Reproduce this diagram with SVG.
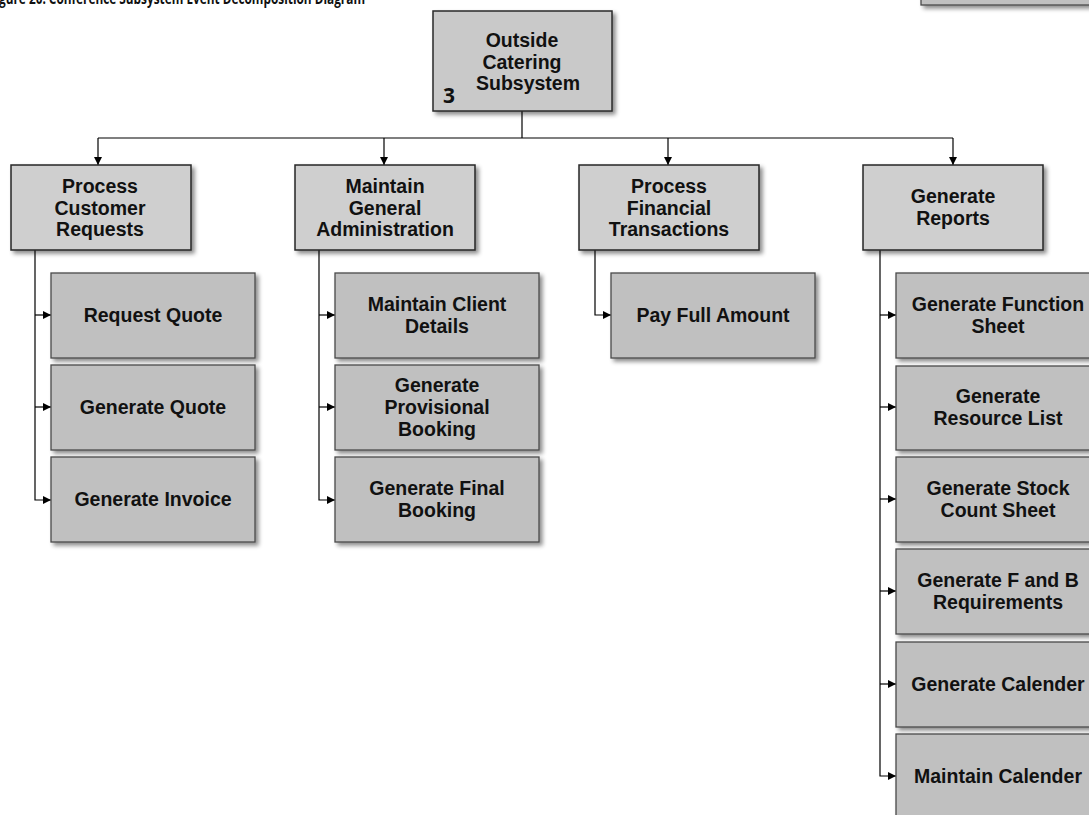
<svg xmlns="http://www.w3.org/2000/svg" width="1089" height="815" viewBox="0 0 1089 815">
  <defs>
    <filter id="shadow" x="-10%" y="-10%" width="130%" height="130%">
      <feDropShadow dx="3" dy="3" stdDeviation="2" flood-color="#000" flood-opacity="0.45"/>
    </filter>
    <marker id="arrow" viewBox="0 0 10 10" refX="10" refY="5" markerWidth="10" markerHeight="8" markerUnits="userSpaceOnUse" orient="auto">
      <path d="M0,0 L10,5 L0,10 z" fill="#000"/>
    </marker>
  </defs>
  <style>
    .bg { fill: #ffffff; }
    .top { fill: #c9c9c9; stroke: #2a2a2a; stroke-width: 1.5; filter: url(#shadow); }
    .mid { fill: #cfcfcf; stroke: #262626; stroke-width: 1.5; filter: url(#shadow); }
    .leaf { fill: #c0c0c0; stroke: #4a4a4a; stroke-width: 1.3; filter: url(#shadow); }
    .lbl { font-family: "Liberation Sans", Arial, sans-serif; font-weight: bold; font-size: 19.5px; fill: #111; text-anchor: middle; }
    .num { font-family: "Open Sans", "Liberation Sans", sans-serif; font-weight: bold; font-size: 21px; fill: #111; }
    .title { font-family: "Open Sans", "Liberation Sans", sans-serif; font-weight: bold; font-size: 16px; fill: #111; }
    .wire { fill: none; stroke: #000; stroke-width: 1.2; }
  </style>

  <rect class="bg" x="0" y="0" width="1089" height="815"/>

  <!-- figure caption, running off the top edge -->
  <text class="title" x="-1" y="4" textLength="366" lengthAdjust="spacingAndGlyphs">gure 20: Conference Subsystem Event Decomposition Diagram</text>

  <!-- box partly off the top-right edge -->
  <rect class="leaf" x="921" y="-40" width="200" height="45"/>

  <!-- connectors -->
  <g id="connectors">
    <path class="wire" d="M522,111 V138"/>
    <path class="wire" d="M98,138 H953"/>
    <path class="wire" d="M98,138 V165" marker-end="url(#arrow)"/>
    <path class="wire" d="M384,138 V165" marker-end="url(#arrow)"/>
    <path class="wire" d="M668,138 V165" marker-end="url(#arrow)"/>
    <path class="wire" d="M953,138 V165" marker-end="url(#arrow)"/>

    <!-- Process Customer Requests children -->
    <path class="wire" d="M35,250 V500 H51" marker-end="url(#arrow)"/>
    <path class="wire" d="M35,315 H51" marker-end="url(#arrow)"/>
    <path class="wire" d="M35,407 H51" marker-end="url(#arrow)"/>

    <!-- Maintain General Administration children -->
    <path class="wire" d="M319,250 V500 H335" marker-end="url(#arrow)"/>
    <path class="wire" d="M319,315 H335" marker-end="url(#arrow)"/>
    <path class="wire" d="M319,407 H335" marker-end="url(#arrow)"/>

    <!-- Process Financial Transactions child -->
    <path class="wire" d="M595,250 V315 H611" marker-end="url(#arrow)"/>

    <!-- Generate Reports children -->
    <path class="wire" d="M880,250 V776 H896" marker-end="url(#arrow)"/>
    <path class="wire" d="M880,315 H896" marker-end="url(#arrow)"/>
    <path class="wire" d="M880,407 H896" marker-end="url(#arrow)"/>
    <path class="wire" d="M880,499 H896" marker-end="url(#arrow)"/>
    <path class="wire" d="M880,591 H896" marker-end="url(#arrow)"/>
    <path class="wire" d="M880,684 H896" marker-end="url(#arrow)"/>
  </g>

  <!-- root -->
  <g id="outside-catering-subsystem">
    <rect class="top" x="433" y="11" width="179" height="100"/>
    <text class="lbl" x="522" y="47">Outside</text>
    <text class="lbl" x="522" y="68.5">Catering</text>
    <text class="lbl" x="528" y="90">Subsystem</text>
    <text class="num" x="443" y="103">3</text>
  </g>

  <!-- level 1 -->
  <g id="process-customer-requests">
    <rect class="mid" x="11" y="165" width="180" height="85"/>
    <text class="lbl" x="100" y="193">Process</text>
    <text class="lbl" x="100" y="214.5">Customer</text>
    <text class="lbl" x="100" y="236">Requests</text>
  </g>
  <g id="maintain-general-administration">
    <rect class="mid" x="295" y="165" width="180" height="85"/>
    <text class="lbl" x="385" y="193">Maintain</text>
    <text class="lbl" x="385" y="214.5">General</text>
    <text class="lbl" x="385" y="236">Administration</text>
  </g>
  <g id="process-financial-transactions">
    <rect class="mid" x="579" y="165" width="180" height="85"/>
    <text class="lbl" x="669" y="193">Process</text>
    <text class="lbl" x="669" y="214.5">Financial</text>
    <text class="lbl" x="669" y="236">Transactions</text>
  </g>
  <g id="generate-reports">
    <rect class="mid" x="863" y="165" width="180" height="85"/>
    <text class="lbl" x="953" y="203">Generate</text>
    <text class="lbl" x="953" y="224.5">Reports</text>
  </g>

  <!-- level 2: Process Customer Requests -->
  <g id="request-quote">
    <rect class="leaf" x="51" y="273" width="204" height="85"/>
    <text class="lbl" x="153" y="322">Request Quote</text>
  </g>
  <g id="generate-quote">
    <rect class="leaf" x="51" y="365" width="204" height="85"/>
    <text class="lbl" x="153" y="414">Generate Quote</text>
  </g>
  <g id="generate-invoice">
    <rect class="leaf" x="51" y="457" width="204" height="85"/>
    <text class="lbl" x="153" y="506">Generate Invoice</text>
  </g>

  <!-- level 2: Maintain General Administration -->
  <g id="maintain-client-details">
    <rect class="leaf" x="335" y="273" width="204" height="85"/>
    <text class="lbl" x="437" y="311">Maintain Client</text>
    <text class="lbl" x="437" y="333">Details</text>
  </g>
  <g id="generate-provisional-booking">
    <rect class="leaf" x="335" y="365" width="204" height="85"/>
    <text class="lbl" x="437" y="392">Generate</text>
    <text class="lbl" x="437" y="414">Provisional</text>
    <text class="lbl" x="437" y="436">Booking</text>
  </g>
  <g id="generate-final-booking">
    <rect class="leaf" x="335" y="457" width="204" height="85"/>
    <text class="lbl" x="437" y="495">Generate Final</text>
    <text class="lbl" x="437" y="517">Booking</text>
  </g>

  <!-- level 2: Process Financial Transactions -->
  <g id="pay-full-amount">
    <rect class="leaf" x="611" y="273" width="204" height="85"/>
    <text class="lbl" x="713" y="322">Pay Full Amount</text>
  </g>

  <!-- level 2: Generate Reports -->
  <g id="generate-function-sheet">
    <rect class="leaf" x="896" y="273" width="204" height="85"/>
    <text class="lbl" x="998" y="311">Generate Function</text>
    <text class="lbl" x="998" y="333">Sheet</text>
  </g>
  <g id="generate-resource-list">
    <rect class="leaf" x="896" y="366" width="204" height="84"/>
    <text class="lbl" x="998" y="403">Generate</text>
    <text class="lbl" x="998" y="425">Resource List</text>
  </g>
  <g id="generate-stock-count-sheet">
    <rect class="leaf" x="896" y="457" width="204" height="85"/>
    <text class="lbl" x="998" y="495">Generate Stock</text>
    <text class="lbl" x="998" y="517">Count Sheet</text>
  </g>
  <g id="generate-f-and-b-requirements">
    <rect class="leaf" x="896" y="549" width="204" height="85"/>
    <text class="lbl" x="998" y="587">Generate F and B</text>
    <text class="lbl" x="998" y="609">Requirements</text>
  </g>
  <g id="generate-calender">
    <rect class="leaf" x="896" y="642" width="204" height="85"/>
    <text class="lbl" x="998" y="691">Generate Calender</text>
  </g>
  <g id="maintain-calender">
    <rect class="leaf" x="896" y="734" width="204" height="85"/>
    <text class="lbl" x="998" y="783">Maintain Calender</text>
  </g>
</svg>
